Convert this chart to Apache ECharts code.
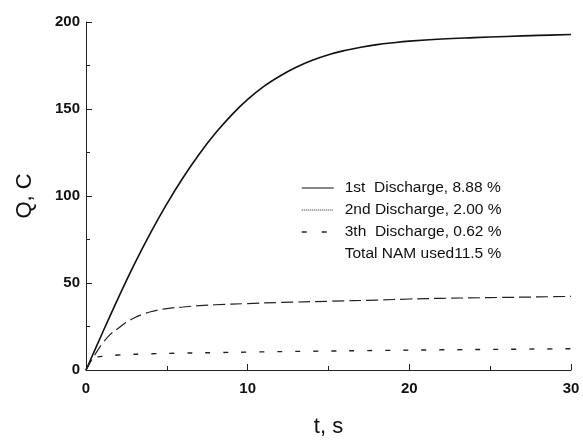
<!DOCTYPE html>
<html><head><meta charset="utf-8">
<script src="https://cdn.jsdelivr.net/npm/echarts@6/dist/echarts.min.js"></script>
<style>html,body{margin:0;padding:0;background:#fff}#c{width:583px;height:443px}</style>
</head><body><div id="c"></div>
<script>
const seriesNames = ['1st  Discharge, 8.88 %', '2nd Discharge, 2.00 %', '3th  Discharge, 0.62 %', 'Total NAM used11.5 %'];
const t1 = [0, 1, 2, 3, 4, 5, 6, 7, 8, 9, 10, 11, 12, 13, 14, 15, 16, 17, 18, 19, 20, 22, 24, 26, 28, 30];
const q1 = [0, 21, 41.5, 61, 79, 95.5, 110.5, 124, 136, 146.5, 155.5, 163, 169, 174, 178, 181.2, 183.6, 185.5, 187, 188.1, 189, 190.2, 191, 191.7, 192.3, 192.8];
const t2 = [0, 0.5, 1, 1.5, 2, 2.5, 3, 3.5, 4, 5, 6, 7, 8, 10, 12, 15, 18, 20, 22, 25, 28, 30];
const q2 = [0, 8, 15, 20.5, 24, 27.5, 30, 32, 33.5, 35.3, 36.2, 37, 37.5, 38.2, 38.8, 39.5, 40.2, 40.8, 41.2, 41.6, 42, 42.3];
const t3 = [0, 0.5, 1, 2, 4, 6, 8, 10, 14, 18, 22, 26, 30];
const q3 = [0, 6.8, 7.8, 8.6, 9.3, 9.7, 10, 10.3, 10.8, 11.2, 11.6, 11.9, 12.2];
const xTicks = {min: 0, max: 30, interval: 10};
const yTicks = {min: 0, max: 200, interval: 50};

const pairs = (t, q) => t.map((v, i) => [v, q[i]]);
const font = '"Liberation Sans", Arial, sans-serif';
const chart = echarts.init(document.getElementById('c'));
chart.setOption({
  animation: false,
  backgroundColor: '#fff',
  grid: {left: 86, right: 12, top: 22, bottom: 67, containLabel: false},
  legend: {
    orient: 'vertical', left: 296, top: 175,
    itemWidth: 32, itemHeight: 14, itemGap: 6,
    textStyle: {fontFamily: font, fontSize: 15.5, color: '#111', padding: [0, 0, 0, 6]},
    data: [
      {name: seriesNames[0], itemStyle: {opacity: 0}, lineStyle: {type: 'solid', width: 1.2}},
      {name: seriesNames[1], itemStyle: {opacity: 0}, lineStyle: {type: [1, 1], width: 1}},
      {name: seriesNames[2], itemStyle: {opacity: 0}, lineStyle: {type: [5, 15], width: 1.5}},
      {name: seriesNames[3], icon: 'none'}
    ]
  },
  xAxis: {
    type: 'value', min: xTicks.min, max: xTicks.max, interval: xTicks.interval,
    name: 't, s', nameLocation: 'middle', nameGap: 46,
    nameTextStyle: {fontFamily: font, fontSize: 22, color: '#111'},
    axisLine: {lineStyle: {color: '#222', width: 1}},
    axisTick: {inside: true, length: 6, lineStyle: {color: '#222'}},
    minorTick: {show: true, splitNumber: 2, length: 4, lineStyle: {color: '#222'}},
    splitLine: {show: false},
    axisLabel: {fontFamily: font, fontSize: 15, fontWeight: 'bold', color: '#111', margin: 11}
  },
  yAxis: {
    type: 'value', min: yTicks.min, max: yTicks.max, interval: yTicks.interval,
    name: 'Q, C', nameLocation: 'middle', nameGap: 50,
    nameTextStyle: {fontFamily: font, fontSize: 22, color: '#111'},
    axisLine: {show: true, lineStyle: {color: '#222', width: 1}},
    axisTick: {show: true, inside: true, length: 6, lineStyle: {color: '#222'}},
    minorTick: {show: true, splitNumber: 2, length: 4, lineStyle: {color: '#222'}},
    splitLine: {show: false},
    axisLabel: {fontFamily: font, fontSize: 15, fontWeight: 'bold', color: '#111', margin: 6}
  },
  series: [
    {name: seriesNames[0], type: 'line', data: pairs(t1, q1), smooth: 0.4, showSymbol: false, symbol: 'none',
     lineStyle: {color: '#111', width: 1.6, type: 'solid'}, itemStyle: {color: '#111'}},
    {name: seriesNames[1], type: 'line', data: pairs(t2, q2), smooth: 0.4, showSymbol: false, symbol: 'none',
     lineStyle: {color: '#222', width: 1.2, type: [12, 5]}, itemStyle: {color: '#222'}},
    {name: seriesNames[2], type: 'line', data: pairs(t3, q3), smooth: 0.4, showSymbol: false, symbol: 'none',
     lineStyle: {color: '#222', width: 1.4, type: [5, 13]}, itemStyle: {color: '#222'}},
    {name: seriesNames[3], type: 'line', data: [], symbol: 'none', lineStyle: {opacity: 0}}
  ]
});
</script></body></html>
